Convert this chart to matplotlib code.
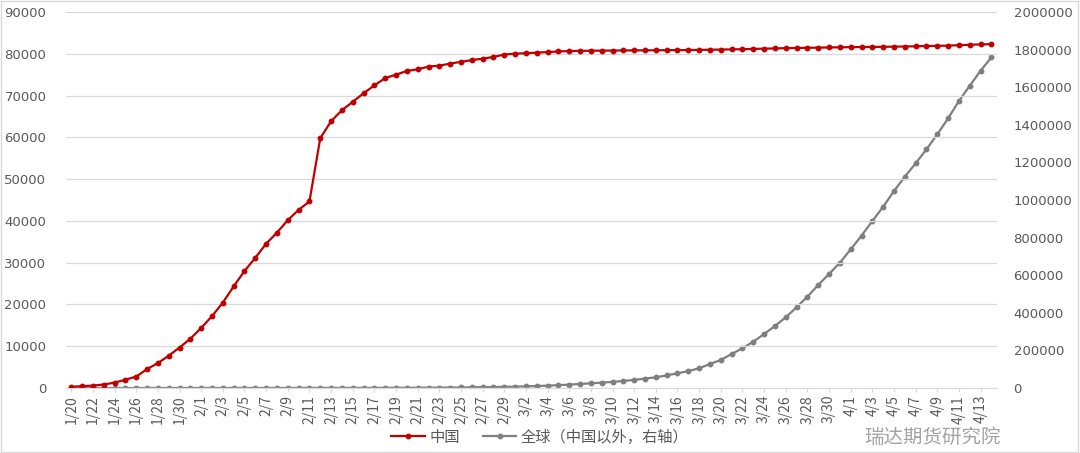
import matplotlib.pyplot as plt
import matplotlib.patches as mpatches
import matplotlib.ticker as mticker
import numpy as np
import pandas as pd

plt.rcParams['font.family'] = ['Noto Sans CJK SC', 'DejaVu Sans']

# 日期 1/20 - 4/14
dates = pd.date_range('2020-01-20', '2020-04-14', freq='D')
date_labels = [f'{d.month}/{d.day}' for d in dates]

# 中国累计确诊（左轴）
china = [291, 440, 571, 830, 1287, 1975, 2744, 4515, 5974, 7711,
         9692, 11791, 14380, 17205, 20438, 24324, 28018, 31161, 34546, 37198,
         40171, 42638, 44653, 59804, 63851, 66492, 68500, 70548, 72436, 74185,
         75002, 75891, 76288, 76936, 77150, 77658, 78064, 78497, 78824, 79251,
         79824, 80026, 80151, 80270, 80409, 80552, 80651, 80695, 80735, 80754,
         80778, 80793, 80813, 80824, 80844, 80860, 80881, 80894, 80928, 80967,
         81008, 81054, 81093, 81171, 81218, 81285, 81340, 81394, 81439, 81470,
         81518, 81554, 81589, 81620, 81639, 81669, 81708, 81740, 81802, 81865,
         81907, 81953, 82052, 82160, 82249, 82295]

# 全球（中国以外，右轴）
world_ex_china = [4, 6, 9, 14, 25, 40, 57, 64, 87, 105,
                  118, 153, 173, 183, 188, 212, 227, 265, 317, 343,
                  361, 457, 476, 523, 538, 595, 685, 780, 896, 999,
                  1076, 1200, 1402, 1769, 2069, 2459, 2918, 3664, 4691, 5200,
                  6000, 7300, 8800, 10500, 12500, 15000, 18000, 21500, 25000, 28500,
                  32500, 37500, 43000, 50000, 57000, 67000, 78000, 90000, 104800, 127700,
                  148900, 180900, 211100, 246300, 287200, 329800, 376100, 429300, 485600, 547900,
                  606400, 666500, 737700, 810100, 888300, 964300, 1047800, 1124000, 1195200, 1269600,
                  1349400, 1434500, 1526600, 1608000, 1688000, 1759000]

red = '#C00000'
grey = '#7F7F7F'
txt = '#595959'

fig = plt.figure(figsize=(10.8, 4.53), dpi=100)
ax = fig.add_axes([0.061, 0.1435, 0.862, 0.83])
ax2 = ax.twinx()

x = np.arange(len(dates))
l2, = ax2.plot(x, world_ex_china, color=grey, lw=1.6, marker='o', ms=3.2,
               label='全球（中国以外，右轴）')
l1, = ax.plot(x, china, color=red, lw=1.6, marker='o', ms=3.2, label='中国')
ax.set_zorder(ax2.get_zorder() + 1)
ax.patch.set_visible(False)

ax.set_xlim(-0.5, len(dates) - 0.5)
ax.set_ylim(0, 90000)
ax2.set_ylim(0, 2000000)
ax.set_yticks(np.arange(0, 90001, 10000))
ax2.set_yticks(np.arange(0, 2000001, 200000))
ax2.yaxis.set_major_formatter(mticker.FuncFormatter(lambda v, p: f'{int(v)}'))
ax.set_xticks(x[::2])
ax.set_xticklabels(date_labels[::2], rotation=90)

ax2.yaxis.grid(False)
ax.yaxis.grid(True, color='#D9D9D9', lw=0.9)
ax.set_axisbelow(True)

for a in (ax, ax2):
    for s in a.spines.values():
        s.set_visible(False)
    a.tick_params(axis='y', length=0, labelsize=9.5, colors=txt)
    for lab in a.get_yticklabels():
        lab.set_family('DejaVu Sans')
ax.spines['bottom'].set_visible(True)
ax.spines['bottom'].set_color('#D9D9D9')
ax.tick_params(axis='x', length=3, color='#D9D9D9', labelsize=10, colors=txt, pad=2)
ax.tick_params(axis='y', pad=14)
ax2.tick_params(axis='y', pad=12)

fig.legend(handles=[l1, l2], loc='center', bbox_to_anchor=(0.5, 0.035), ncol=2,
           frameon=False, fontsize=11, labelcolor=txt, handlelength=2.2,
           columnspacing=1.5, handletextpad=0.3)

# 水印
fig.text(0.80, 0.035, '瑞达期货研究院', fontsize=14, color='#8C8C8C', alpha=0.8,
         ha='left', va='center')

fig.patches.append(mpatches.Rectangle((0.001, 0.002), 0.997, 0.995, transform=fig.transFigure,
                                      fill=False, edgecolor='#D9D9D9', lw=1))

plt.savefig('out.png', dpi=100)
